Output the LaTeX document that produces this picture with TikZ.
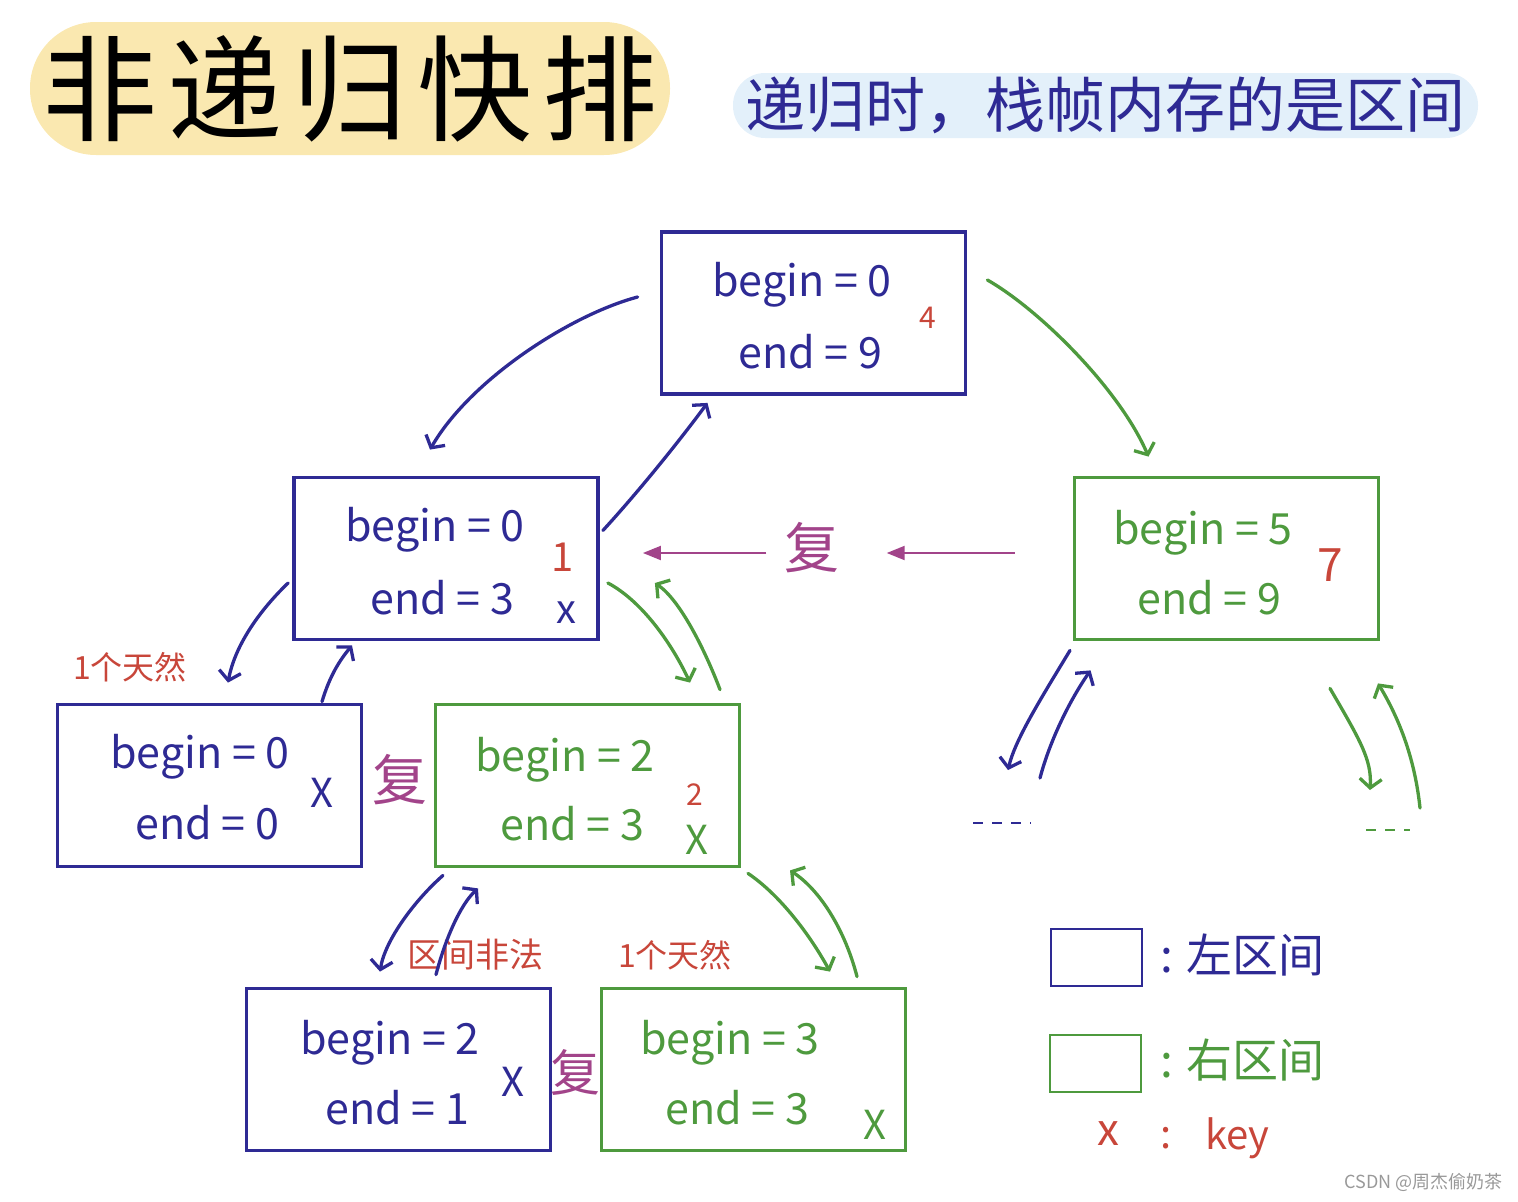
\documentclass[tikz,border=0pt]{standalone}
\usepackage{fontspec}
\setmainfont{Noto Sans CJK SC}
\usetikzlibrary{arrows.meta,positioning}
\definecolor{lblue}{HTML}{2E2A94}
\definecolor{rgreen}{HTML}{4E9A3E}
\definecolor{keyred}{HTML}{C8463A}
\definecolor{fumag}{HTML}{A2448A}
\definecolor{titlebg}{HTML}{FAE8B0}
\definecolor{subbg}{HTML}{E3F0FA}
\tikzset{
  lbox/.style={draw=lblue,line width=3.8pt,minimum width=304pt,minimum height=162pt,inner sep=0pt},
  rbox/.style={draw=rgreen,line width=3.8pt,minimum width=304pt,minimum height=162pt,inner sep=0pt},
  boxtxt/.style={anchor=west,inner sep=0pt,font=\fontsize{43}{46}\selectfont},
  keytxt/.style={inner sep=0pt,text=keyred},
  marktxt/.style={inner sep=0pt,font=\fontsize{40}{40}\selectfont},
  hand/.style={line width=3.3pt,line cap=round,->},
  fu/.style={inner sep=0pt,text=fumag,font=\fontsize{55}{55}\selectfont},
}
\begin{document}
\begin{tikzpicture}[x=1pt,y=-1pt,>={Straight Barb[length=9pt,width=22pt]}]
\useasboundingbox (0,0) rectangle (1518,1202);
% title and subtitle
\node[fill=titlebg,rounded corners=66pt,minimum width=640pt,minimum height=133pt,inner sep=0pt,
  font=\fontsize{115}{115}\selectfont] (title) at (350,88.5)
  {非\hspace{10pt}递\hspace{10pt}归\hspace{10pt}快\hspace{10pt}排};
\node[fill=subbg,rounded corners=32pt,minimum width=745pt,minimum height=65pt,inner sep=0pt,
  text=lblue,font=\fontsize{60}{60}\selectfont] (sub) at (1105.5,105.5) {递归时，栈帧内存的是区间};
% interval boxes
\node[lbox] (n09) at (813.5,313) {};
\node[lbox] (n03) at (446,558.5) {};
\node[rbox] (n59) at (1226.5,558.5) {};
\node[lbox] (n00) at (209.5,785.5) {};
\node[rbox] (n23) at (587.5,785.5) {};
\node[lbox] (n21) at (398.5,1069.5) {};
\node[rbox] (n33) at (753.5,1069.5) {};
% box texts
\node[boxtxt,text=lblue] (n09b) at (712,285) {begin = 0};
\node[boxtxt,text=lblue] (n09e) at (738,352) {end = 9};
\node[boxtxt,text=lblue] (n03b) at (345,530) {begin = 0};
\node[boxtxt,text=lblue] (n03e) at (370,598) {end = 3};
\node[boxtxt,text=rgreen] (n59b) at (1113,533) {begin = 5};
\node[boxtxt,text=rgreen] (n59e) at (1137,598) {end = 9};
\node[boxtxt,text=lblue] (n00b) at (110,757) {begin = 0};
\node[boxtxt,text=lblue] (n00e) at (135,823) {end = 0};
\node[boxtxt,text=rgreen] (n23b) at (475,760) {begin = 2};
\node[boxtxt,text=rgreen] (n23e) at (500,824) {end = 3};
\node[boxtxt,text=lblue] (n21b) at (300,1043) {begin = 2};
\node[boxtxt,text=lblue] (n21e) at (325,1108) {end = 1};
\node[boxtxt,text=rgreen] (n33b) at (640,1043) {begin = 3};
\node[boxtxt,text=rgreen] (n33e) at (665,1108) {end = 3};
% key positions and marks
\node[keytxt,font=\fontsize{30}{30}\selectfont] (k09) at (928,318) {4};
\node[keytxt,font=\fontsize{40}{40}\selectfont] (k03) at (563,557) {1};
\node[keytxt,font=\fontsize{46}{46}\selectfont] (k59) at (1330,565) {7};
\node[keytxt,font=\fontsize{30}{30}\selectfont] (k23) at (695,795) {2};
\node[marktxt,text=lblue] (x03) at (566,613) {x};
\node[marktxt,text=lblue] (x00) at (322,793) {X};
\node[marktxt,text=rgreen] (x23) at (697,840) {X};
\node[marktxt,text=lblue] (x21) at (513,1082) {X};
\node[marktxt,text=rgreen] (x33) at (875,1125) {X};
% notes
\node[keytxt,font=\fontsize{32}{32}\selectfont] (lab00) at (130,667) {1个天然};
\node[keytxt,font=\fontsize{34}{34}\selectfont] (lab21) at (475,955) {区间非法};
\node[keytxt,font=\fontsize{32}{32}\selectfont] (lab33) at (675,955) {1个天然};
\node[fu] (fu1) at (812,548) {复};
\node[fu] (fu2) at (400,780) {复};
\node[fu,font=\fontsize{50}{50}\selectfont] (fu3) at (575,1072) {复};
% recursion arrows
\draw[hand,lblue] ([shift={(-22,-16)}]n09.west) .. controls (570,315) and (470,380) .. ([shift={(-16,-26)}]n03.north);
\draw[hand,lblue] ([shift={(3,-28)}]n03.east) .. controls (640,490) and (680,440) .. ([shift={(-106,7)}]n09.south);
\draw[hand,rgreen] ([shift={(20,-33)}]n09.east) .. controls (1040,310) and (1120,390) .. ([shift={(-78,-19)}]n59.north);
\draw[hand,lblue] ([shift={(-4,24.5)}]n03.west) .. controls (260,610) and (235,645) .. ([shift={(18.5,-20)}]n00.north);
\draw[hand,lblue] ([shift={(112.5,-1)}]n00.north) .. controls (330,675) and (340,660) .. ([shift={(-94,4)}]n03.south);
\draw[hand,rgreen] ([shift={(8,24.5)}]n03.east) .. controls (640,600) and (670,640) .. ([shift={(102.5,-20)}]n23.north);
\draw[hand,rgreen] ([shift={(132.5,-13)}]n23.north) .. controls (705,650) and (680,600) .. ([shift={(55,24.5)}]n03.east);
\draw[hand,lblue] ([shift={(-144.5,7)}]n23.south) .. controls (415,900) and (385,940) .. ([shift={(-18.5,-15)}]n21.north);
\draw[hand,lblue] ([shift={(37.5,-12)}]n21.north) .. controls (445,940) and (460,905) .. ([shift={(-109.5,20)}]n23.south);
\draw[hand,rgreen] ([shift={(160.5,5)}]n23.south) .. controls (780,895) and (810,935) .. ([shift={(76.5,-15)}]n33.north);
\draw[hand,rgreen] ([shift={(103.5,-10)}]n33.north) .. controls (845,930) and (820,890) .. ([shift={(202.5,2)}]n23.south);
% unexplored subranges of the right part
\coordinate (restL) at (1003,823);
\coordinate (restR) at (1388,830);
\draw[hand,lblue] ([shift={(-156.5,9)}]n59.south) .. controls (1040,700) and (1015,740) .. ([shift={(5,-53)}]restL);
\draw[hand,lblue] ([shift={(37,-45)}]restL) .. controls (1050,740) and (1070,700) .. ([shift={(-136,29)}]n59.south);
\draw[hand,rgreen] ([shift={(103.5,47)}]n59.south) .. controls (1360,740) and (1372,760) .. ([shift={(-18,-40)}]restR);
\draw[hand,rgreen] ([shift={(32,-22)}]restR) .. controls (1415,760) and (1400,720) .. ([shift={(151.5,42)}]n59.south);
\draw[lblue,line width=2pt,dash pattern=on 10pt off 9pt] ([xshift=-30pt]restL) -- ([xshift=28pt]restL);
\draw[rgreen,line width=2pt,dash pattern=on 10pt off 9pt] ([xshift=-22pt]restR) -- ([xshift=22pt]restR);
% backtracking
\draw[fumag,line width=2pt,-{Triangle[length=18pt,width=14pt]}] ([shift={(-58,-5.5)}]n59.west) -- ([shift={(47,5)}]fu1.east);
\draw[fumag,line width=2pt,-{Triangle[length=18pt,width=14pt]}] ([shift={(-18,5)}]fu1.west) -- ([shift={(43,-5.5)}]n03.east);
% legend
\node[lbox,line width=2pt,minimum width=91pt,minimum height=57pt] (lgl) at (1096.5,957.5) {};
\node[rbox,line width=2pt,minimum width=91pt,minimum height=57pt] (lgr) at (1095.5,1063.5) {};
\node[anchor=west,inner sep=0pt,text=lblue,font=\fontsize{46}{46}\selectfont] (lgltxt) at (1160,955) {: 左区间};
\node[anchor=west,inner sep=0pt,text=rgreen,font=\fontsize{46}{46}\selectfont] (lgrtxt) at (1160,1060) {: 右区间};
\node[keytxt,font=\fontsize{44}{44}\selectfont] (keyx) at (1108,1134) {x};
\node[keytxt,font=\fontsize{40}{40}\selectfont] (keycol) at (1166,1138) {:};
\node[keytxt,anchor=west,font=\fontsize{40}{40}\selectfont] (keyname) at (1205,1138) {key};
% watermark
\node[anchor=east,inner sep=0pt,text=black!40,font=\fontsize{18}{18}\selectfont] (wm) at (1503,1182) {CSDN @周杰偷奶茶};
\end{tikzpicture}
\end{document}
